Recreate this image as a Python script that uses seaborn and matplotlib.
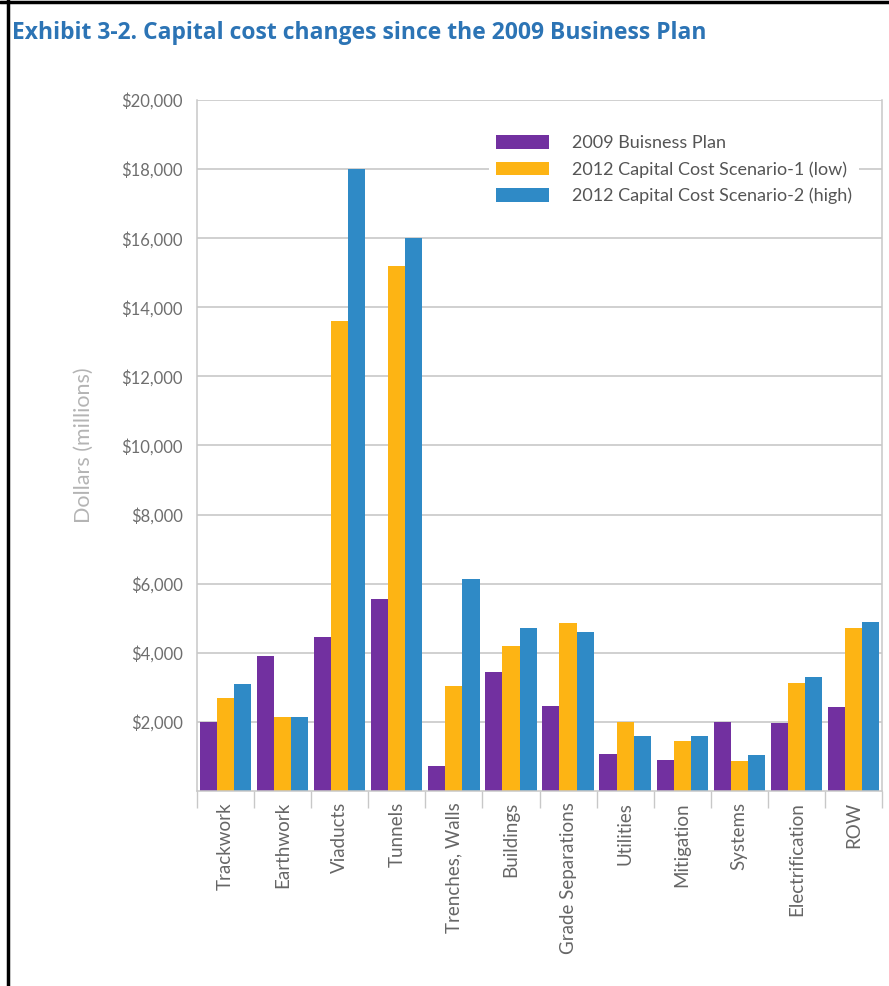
import matplotlib
matplotlib.use("Agg")
import matplotlib.pyplot as plt
from matplotlib.lines import Line2D
from matplotlib.patches import Patch
from matplotlib.ticker import FixedLocator, FuncFormatter
import numpy as np
import pandas as pd
import seaborn as sns

categories = ["Trackwork", "Earthwork", "Viaducts", "Tunnels", "Trenches, Walls",
              "Buildings", "Grade Separations", "Utilities", "Mitigation",
              "Systems", "Electrification", "ROW"]
plan_2009 = [2000, 3900, 4450, 5550, 730, 3430, 2470, 1060, 890, 2000, 1960, 2430]
scenario_low = [2700, 2150, 13600, 15200, 3050, 4200, 4850, 2010, 1450, 870, 3130, 4730]
scenario_high = [3100, 2150, 18000, 16000, 6150, 4730, 4610, 1600, 1600, 1040, 3310, 4880]
series_names = ["2009 Buisness Plan",
                "2012 Capital Cost Scenario-1 (low)",
                "2012 Capital Cost Scenario-2 (high)"]
y_ticks = [2000, 4000, 6000, 8000, 10000, 12000, 14000, 16000, 18000, 20000]

colors = ["#7230A0", "#FDB414", "#2F8AC6"]

df = pd.DataFrame({
    "category": categories * 3,
    "value": plan_2009 + scenario_low + scenario_high,
    "series": [series_names[0]] * 12 + [series_names[1]] * 12 + [series_names[2]] * 12,
})

sns.set_theme(style="white")
plt.rcParams["font.family"] = ["Lato", "DejaVu Sans"]

W, H = 889, 986
fig = plt.figure(figsize=(W / 100, H / 100), dpi=100)
ax = fig.add_axes([197 / W, 1 - 791 / H, (882 - 197) / W, (791 - 100) / H])

grid_c = "#C4C4C4"
for t in y_ticks:
    ax.axhline(t, color=grid_c, lw=1.1, zorder=0)

sns.barplot(data=df, x="category", y="value", hue="series", order=categories,
            hue_order=series_names, palette=colors, width=0.9, saturation=1,
            gap=0, ax=ax, legend=False, zorder=2, edgecolor="none")

ax.set_ylim(0, 20000)
ax.set_xlim(-0.5, len(categories) - 0.5)
ax.yaxis.set_major_locator(FixedLocator(y_ticks))
ax.yaxis.set_major_formatter(FuncFormatter(lambda v, p: f"${v:,.0f}"))
ax.tick_params(axis="y", length=0, pad=10, labelsize=12, labelcolor="#6E6E6E")

ax.set_xticks(np.arange(len(categories)))
ax.set_xticklabels(categories, rotation=90, fontsize=13.5, color="#666666")
ax.tick_params(axis="x", which="major", length=0, pad=8)
ax.set_xticks(np.arange(len(categories) + 1) - 0.5, minor=True)
ax.tick_params(axis="x", which="minor", length=12, width=1, color="#C8C8C8",
               direction="out", bottom=True)

for side in ["left", "right", "bottom"]:
    ax.spines[side].set_color("#C8C8C8")
    ax.spines[side].set_linewidth(1.1)
ax.spines["top"].set_visible(False)

ax.set_xlabel("")
ax.set_ylabel("Dollars (millions)", fontsize=15.5, color="#B4B4B4", labelpad=20)

handles = [Patch(facecolor=c, edgecolor="none") for c in colors]
leg = ax.legend(handles, series_names, loc="upper left",
                bbox_to_anchor=(480 / W, 1 - 119 / H), bbox_transform=fig.transFigure,
                frameon=True, fancybox=False, framealpha=1, edgecolor="none",
                facecolor="white", fontsize=13, handlelength=2.9, handleheight=0.75,
                labelspacing=0.55, handletextpad=1.3, borderpad=0.4)
for txt in leg.get_texts():
    txt.set_color("#555555")
leg.set_zorder(5)

fig.text(12 / W, 1 - 33 / H, "Exhibit 3-2. Capital cost changes since the 2009 Business Plan",
         fontsize=16.5, fontweight="bold", color="#2C74B5", va="center", ha="left",
         family=["Open Sans", "DejaVu Sans"])

fig.add_artist(Line2D([7.5 / W, 7.5 / W], [0, 1], transform=fig.transFigure,
                      color="black", lw=2.5))
fig.add_artist(Line2D([0, 1], [1 - 1.5 / H, 1 - 1.5 / H], transform=fig.transFigure,
                      color="black", lw=2.5))

fig.savefig("out.png", dpi=100)
